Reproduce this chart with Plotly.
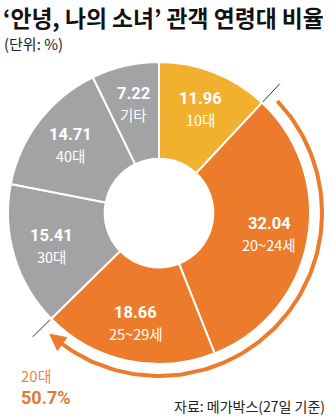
import math
import numpy as np
import plotly.graph_objects as go

# ---- data ----
categories = ["10대", "20~24세", "25~29세", "30대", "40대", "기타"]
values = [11.96, 32.04, 18.66, 15.41, 14.71, 7.22]
value_labels = ["11.96", "32.04", "18.66", "15.41", "14.71", "7.22"]
twenties_label = "20대"
twenties_total = "50.7%"
title_text = "‘안녕, 나의 소녀’ 관객 연령대 비율"
unit_text = "(단위: %)"
source_text = "자료: 메가박스(27일 기준)"

# ---- style ----
YELLOW = "#F1B12E"
ORANGE = "#EC7B2B"
GRAY = "#A3A3A5"
colors = [YELLOW, ORANGE, ORANGE, GRAY, GRAY, GRAY]
FONT = "Noto Sans CJK KR"
NUMFONT = "Roboto"
W, H = 332, 417
CX, CY, R = 159, 213, 151
HOLE = 0.36
LABEL_R = 112
ARC_R = 163

total = sum(values)
cum = np.cumsum([0] + values) / total * 360.0  # boundary angles, clockwise from top


def pt(angle_deg, r):
    a = math.radians(angle_deg)
    return CX + r * math.sin(a), CY - r * math.cos(a)


fig = go.Figure()

fig.add_trace(go.Pie(
    labels=categories, values=values, sort=False, direction="clockwise", rotation=0,
    hole=HOLE, marker=dict(colors=colors, line=dict(color="white", width=2)),
    textinfo="none", hoverinfo="none",
    domain=dict(x=[(CX - R) / W, (CX + R) / W], y=[1 - (CY + R) / H, 1 - (CY - R) / H]),
))

# arc around the 20s slices
a_start = cum[1] + 3.5
a_tip = cum[3] - 3.6
a_base = a_tip - 5.5
angs = np.linspace(a_start, a_base + 0.5, 120)
ax_pts = [pt(a, ARC_R) for a in angs]
fig.add_trace(go.Scatter(x=[p[0] for p in ax_pts], y=[p[1] for p in ax_pts], mode="lines",
                         line=dict(color=ORANGE, width=4), hoverinfo="skip"))
tip = pt(a_tip, ARC_R)
b1 = pt(a_base, ARC_R - 8)
b2 = pt(a_base, ARC_R + 8)
fig.add_trace(go.Scatter(x=[tip[0], b1[0], b2[0], tip[0]], y=[tip[1], b1[1], b2[1], tip[1]],
                         mode="lines", fill="toself", fillcolor=ORANGE,
                         line=dict(color=ORANGE, width=1), hoverinfo="skip"))

# tick lines at the 20s boundaries
for a in (cum[1], cum[3]):
    p0 = pt(a, R + 1)
    p1 = pt(a, R + 26)
    fig.add_trace(go.Scatter(x=[p0[0], p1[0]], y=[p0[1], p1[1]], mode="lines",
                             line=dict(color="#333333", width=1), hoverinfo="skip"))

annotations = []
for i, (num, cat) in enumerate(zip(value_labels, categories)):
    mid = (cum[i] + cum[i + 1]) / 2
    x, y = pt(mid, LABEL_R)
    annotations.append(dict(x=x, y=y - 10, text=f"<b>{num}</b>", showarrow=False,
                            font=dict(family=NUMFONT, size=16.5, color="white"),
                            xanchor="center", yanchor="middle"))
    annotations.append(dict(x=x, y=y + 11, text=cat, showarrow=False,
                            font=dict(family=FONT, size=14.5, color="white"),
                            xanchor="center", yanchor="middle"))

annotations += [
    dict(x=1, y=17, text=f"<b>{title_text}</b>", showarrow=False, xanchor="left", yanchor="middle",
         font=dict(family=FONT, size=22.8, color="#111111")),
    dict(x=2, y=43, text=unit_text, showarrow=False, xanchor="left", yanchor="middle",
         font=dict(family=FONT, size=15, color="#222222")),
    dict(x=19, y=375, text=twenties_label, showarrow=False, xanchor="left", yanchor="middle",
         font=dict(family=FONT, size=15, color="#E58A48")),
    dict(x=19, y=397, text=f"<b>{twenties_total}</b>", showarrow=False, xanchor="left",
         yanchor="middle", font=dict(family=NUMFONT, size=18, color="#E07B33")),
    dict(x=327, y=406, text=source_text, showarrow=False, xanchor="right", yanchor="middle",
         font=dict(family=FONT, size=14, color="#222222")),
]
for a in annotations:
    a.update(xref="x", yref="y")

fig.update_layout(
    width=W, height=H, margin=dict(l=0, r=0, t=0, b=0),
    paper_bgcolor="white", plot_bgcolor="white", showlegend=False,
    xaxis=dict(range=[0, W], visible=False, fixedrange=True, domain=[0, 1]),
    yaxis=dict(range=[H, 0], visible=False, fixedrange=True, domain=[0, 1]),
    annotations=annotations,
)

fig.write_html("out.html")
